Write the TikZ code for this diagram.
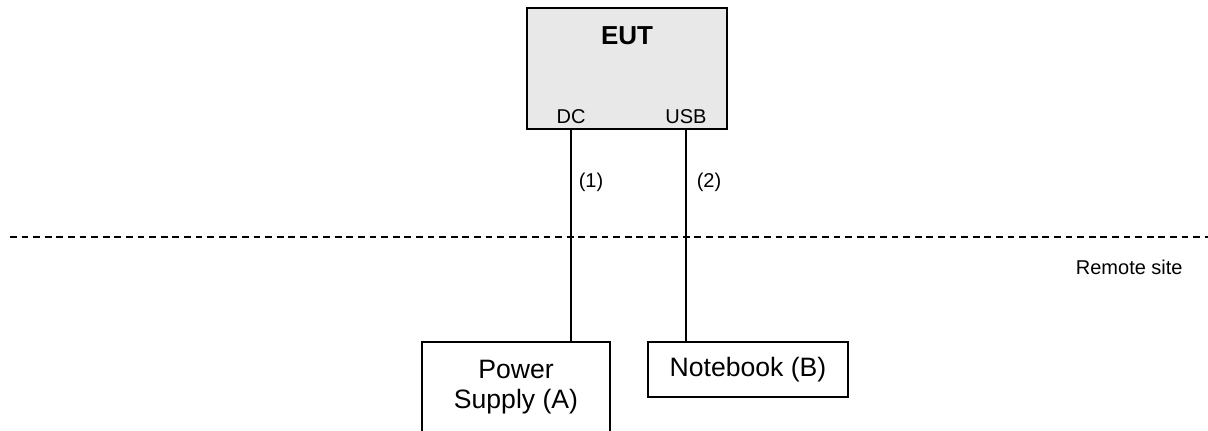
\documentclass[tikz,border=0pt]{standalone}
\usepackage{fontspec}
\setmainfont{Liberation Sans}
\definecolor{eutgray}{HTML}{E8E8E8}
\tikzset{
	unit/.style={draw, line width=1.1pt, inner sep=0pt, align=center, font=\fontsize{13.3}{15}\selectfont},
	port/.style={inner sep=0pt, font=\fontsize{10}{12}\selectfont},
	cable/.style={line width=1pt},
	border/.style={line width=0.6pt, dash pattern=on 3.4pt off 2.4pt},
}

\begin{document}
\begin{tikzpicture}[x=0.5pt, y=-0.5pt]
			%%%%% START %%%%%
			\useasboundingbox (0, 0) rectangle (1208, 430);
			
			% equipment under test
			\node[unit, fill=eutgray, minimum width=100pt, minimum height=60.5pt] (eut) at (627, 68.5) {};
			\node[font=\bfseries\fontsize{13}{15}\selectfont, inner sep=0pt] (eutname) at (627, 36) {EUT};
			\node[port] (dc) at (571, 117) {DC};
			\node[port] (usb) at (686, 117) {USB};
			
			% site border
			\draw[border] (10, 237) -- (1208, 237);
			\node[port, anchor=east] (remote) at (1183, 267) {Remote site};
			
			% remote units
			\node[unit, minimum width=94pt, minimum height=45pt] (psu) at (516, 387) {Power\\Supply (A)};
			\node[unit, minimum width=100pt, minimum height=27.5pt] (nb) at (748, 369.5) {Notebook (B)};
			
			% cables
			\draw[cable] (eut.south -| dc) -- (psu.north -| dc);
			\draw[cable] (eut.south -| usb) -- (nb.north -| usb);
			\node[port] (cab1) at (591, 182) {(1)};
			\node[port] (cab2) at (709, 182) {(2)};
			
			%%%%% END %%%%%
\end{tikzpicture}
\end{document}
